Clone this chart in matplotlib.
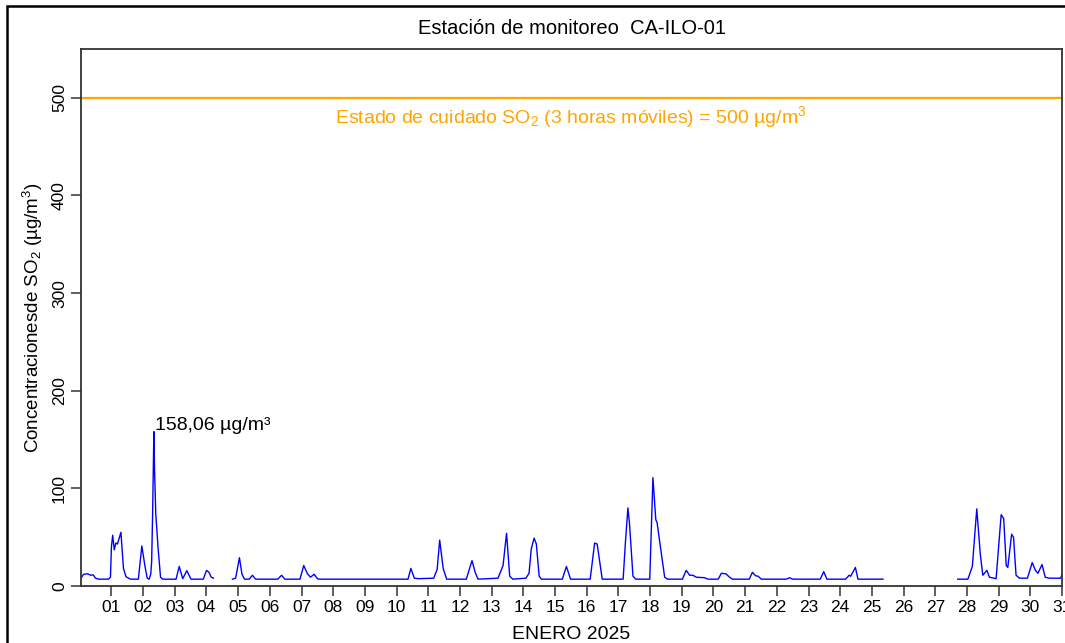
import numpy as np
import matplotlib.pyplot as plt
from matplotlib.patches import Rectangle

plt.rcParams['font.family'] = ['Liberation Sans', 'DejaVu Sans']
plt.rcParams['mathtext.fontset'] = 'custom'
plt.rcParams['mathtext.rm'] = 'Liberation Sans'
plt.rcParams['mathtext.it'] = 'Liberation Sans'

# SO2 readings, time in days since 1 Jan 00:00 (nan = no data)
dias = [0.04, 0.12, 0.25, 0.35, 0.42, 0.50, 0.60, 0.91, 0.97, 1.00, 1.04, 1.09,
        1.14, 1.19, 1.30, 1.38, 1.46, 1.60, 1.85, 1.96, 2.06, 2.13, 2.19, 2.24,
        2.27, 2.30, 2.34, 2.36, 2.40, 2.47, 2.55, 2.62, 3.04, 3.14, 3.25, 3.38,
        3.51, 3.90, 4.00, 4.08, 4.15, 4.22, 4.50,
        4.82, 4.92, 5.04, 5.12, 5.20, 5.35, 5.45, 5.55, 6.25, 6.37, 6.47, 6.95,
        7.07, 7.18, 7.28, 7.40, 7.50, 7.55, 10.36, 10.45, 10.56, 10.70, 11.17,
        11.28, 11.36, 11.47, 11.58, 12.20, 12.38, 12.48, 12.57, 13.20, 13.36,
        13.47, 13.57, 13.67, 14.08, 14.18, 14.25, 14.34, 14.41, 14.50, 14.57,
        15.23, 15.36, 15.49, 16.11, 16.25, 16.33, 16.49, 17.15, 17.22, 17.30,
        17.35, 17.46, 17.55, 17.99, 18.09, 18.18, 18.22, 18.36, 18.46, 18.55,
        19.02, 19.14, 19.25, 19.35, 19.46, 19.72, 19.83, 20.15, 20.25, 20.39,
        20.51, 20.60, 21.13, 21.23, 21.33, 21.41, 21.51, 22.30, 22.40, 22.50,
        23.37, 23.48, 23.58, 24.17, 24.28, 24.33, 24.48, 24.56, 25.35, 26.50,
        27.71, 28.03, 28.17, 28.31, 28.42, 28.50, 28.63, 28.71, 28.92, 29.08,
        29.16, 29.24, 29.29, 29.41, 29.47, 29.55, 29.66, 29.91, 30.06, 30.16,
        30.24, 30.37, 30.47, 30.60, 30.96, 31.00]
so2 = [8, 12, 12.5, 11, 11.5, 8, 7, 7, 9, 40, 52, 37,
       44, 43, 55, 18, 9.5, 7, 7, 41, 20, 8, 7, 12,
       25, 74, 158.06, 120, 74, 40, 9, 7, 7, 20, 7.5, 15.7,
       7, 7, 16, 14, 9, 8, np.nan,
       7, 8, 29, 12, 7, 7, 11, 7, 7, 11, 7, 7,
       21, 13, 9, 12, 7.5, 7, 7, 18, 8, 7.5, 8,
       17, 47, 18, 7, 7, 26, 14, 7, 8, 21,
       54, 10, 7, 8, 13, 38, 49, 43, 10, 7,
       7, 20, 7, 7, 44, 43, 7, 7, 44, 80,
       64, 10, 7, 7, 111, 68, 65, 32, 9, 7,
       7, 16, 11, 11, 9, 8.5, 7, 7, 13, 12.5,
       9, 7, 7, 14, 10.5, 10, 7, 7, 8.5, 7,
       7, 14.7, 7, 7, 11, 10, 19, 7, 7, np.nan,
       7, 7, 20, 79, 33, 11, 16, 9, 7.5, 73,
       69, 21, 19, 53, 50, 11, 8, 8, 24, 16,
       13, 22, 9, 8, 8, 12]

limite = 500
dia_ticks = list(range(1, 32))
dia_labels = ['%02d' % d for d in dia_ticks]
y_ticks = [0, 100, 200, 300, 400, 500]

fig = plt.figure(figsize=(10.65, 6.43), dpi=100)
ax = fig.add_axes([81/1065, 57/643, 981/1065, 537/643])

ax.plot(dias, so2, color='#0000FF', lw=1.0)
ax.axhline(limite, color='#FFA500', lw=1.6)

imax = int(np.nanargmax(so2))
ax.text(dias[imax] + 0.05, so2[imax] + 6, '%s µg/m³' % ('%.2f' % so2[imax]).replace('.', ','),
        fontsize=14, ha='left', va='center')
ax.text(15.5, limite - 20, 'Estado de cuidado SO$_2$ (3 horas móviles) = 500 µg/m$^3$',
        color='#FFA500', fontsize=14, ha='center', va='center')

ax.set_xlim(0.04, 31)
ax.set_ylim(0, 550)
ax.set_xticks(dia_ticks)
ax.set_xticklabels(dia_labels, fontsize=12.5)
ax.set_yticks(y_ticks)
ax.set_yticklabels([str(v) for v in y_ticks], fontsize=12.5, rotation=90, va='center')
ax.tick_params(direction='out', length=7, width=1.2, color='#444444', pad=3)
for s in ax.spines.values():
    s.set_color('#333333')
    s.set_linewidth(1.3)

ax.set_title('Estación de monitoreo  CA-ILO-01', fontsize=14.5, pad=11)
ax.set_xlabel('ENERO 2025', fontsize=14, labelpad=8)
ax.set_ylabel('Concentracionesde SO$_2$ (µg/m$^3$)', fontsize=13.5, labelpad=5)

# outer border of the device region
fig.patches.append(Rectangle((7/1065, -0.1), 1.2, (643 - 6)/643 + 0.1,
                             transform=fig.transFigure, fill=False,
                             ec='black', lw=1.8, clip_on=False))

fig.savefig('out.png', dpi=100)
